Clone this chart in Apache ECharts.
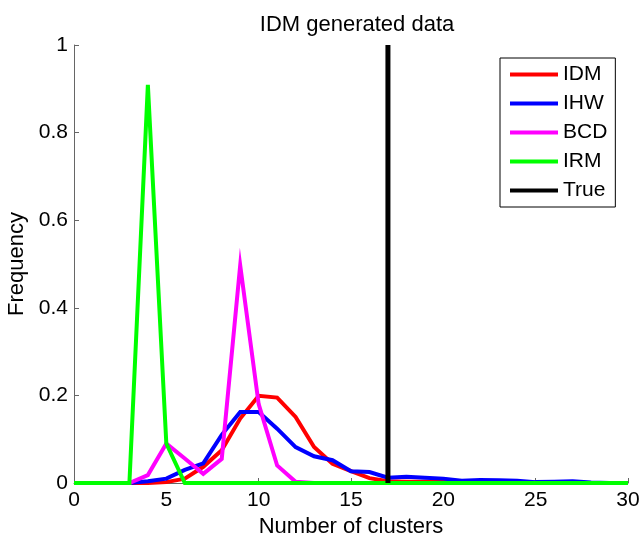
<!DOCTYPE html>
<html><head><meta charset="utf-8">
<script src="https://cdn.jsdelivr.net/npm/echarts@6/dist/echarts.min.js"></script>
<style>html,body{margin:0;padding:0;background:#fff}#c{width:644px;height:536px}</style>
</head><body><div id="c"></div>
<script>
const clusters = Array.from({length: 31}, (_, i) => i);
const IDM = [0,0,0,0,0,0.002,0.01,0.037,0.075,0.147,0.199,0.195,0.151,0.082,0.044,0.027,0.011,0.004,0.003,0.003,0.003,0.002,0.002,0.001,0.001,0.001,0.001,0,0,0,0];
const IHW = [0,0,0,0,0.004,0.01,0.03,0.045,0.11,0.162,0.162,0.124,0.082,0.061,0.052,0.027,0.025,0.012,0.014,0.012,0.01,0.005,0.007,0.006,0.005,0.002,0.003,0.004,0.001,0,0];
const BCD = [0,0,0,0,0.018,0.09,0.056,0.021,0.055,0.497,0.18,0.04,0.003,0,0,0,0,0,0,0,0,0,0,0,0,0,0,0,0,0,0];
const IRM = [0,0,0,0,0.909,0.09,0,0,0,0,0,0,0,0,0,0,0,0,0,0,0,0,0,0,0,0,0,0,0,0,0];
const trueK = 17;
const trueRange = [0, 1];
const names = ['IDM','IHW','BCD','IRM','True'];
const colors = ['#ff0000','#0000ff','#ff00ff','#00ff00','#000000'];
const font = 'Liberation Sans, Arial, sans-serif';

const mk = (name, vals, i) => ({
  name, type: 'line', data: clusters.map((x, j) => [x, vals[j]]),
  showSymbol: false, symbol: 'none', animation: false,
  lineStyle: {width: 4, color: colors[i], join: 'miter'}, itemStyle: {color: colors[i]}
});
const series = [mk('IDM', IDM, 0), mk('IHW', IHW, 1), mk('BCD', BCD, 2), mk('IRM', IRM, 3),
  {name: 'True', type: 'line', data: trueRange.map(v => [trueK, v]), showSymbol: false, symbol: 'none',
   animation: false, lineStyle: {width: 5, color: '#000'}, itemStyle: {color: '#000'}}];

const chart = echarts.init(document.getElementById('c'));
chart.setOption({
  animation: false,
  title: {text: 'IDM generated data', left: 352, textAlign: 'center', top: 9, textStyle: {fontFamily: font, fontSize: 22, fontWeight: 'normal', color: '#000'}},
  grid: {left: 74, right: 16, top: 45, bottom: 53, containLabel: false, outerBoundsMode: 'none'},
  legend: {
    data: names, orient: 'vertical', left: 500, top: 58, icon: 'rect',
    backgroundColor: '#fff', borderColor: '#000', borderWidth: 1,
    padding: [6, 8, 6, 10], itemGap: 8, itemWidth: 48, itemHeight: 4,
    itemStyle: {borderWidth: 0},
    textStyle: {fontFamily: font, fontSize: 21, lineHeight: 21, color: '#000'}
  },
  xAxis: {
    type: 'value', min: 0, max: 30, interval: 5,
    name: 'Number of clusters', nameLocation: 'middle', nameGap: 27,
    nameTextStyle: {fontFamily: font, fontSize: 22, color: '#000'},
    axisLine: {lineStyle: {color: '#666', width: 1}},
    axisTick: {inside: true, length: 5, lineStyle: {color: '#666'}},
    axisLabel: {fontFamily: font, fontSize: 21, color: '#000', margin: 7},
    splitLine: {show: false}
  },
  yAxis: {
    type: 'value', min: 0, max: 1, interval: 0.2,
    name: 'Frequency', nameLocation: 'middle', nameGap: 46,
    nameTextStyle: {fontFamily: font, fontSize: 22, color: '#000'},
    axisLine: {show: true, lineStyle: {color: '#666', width: 1}},
    axisTick: {show: true, inside: true, length: 5, lineStyle: {color: '#666'}},
    axisLabel: {fontFamily: font, fontSize: 21, color: '#000', margin: 6},
    splitLine: {show: false}
  },
  series
});
</script></body></html>
